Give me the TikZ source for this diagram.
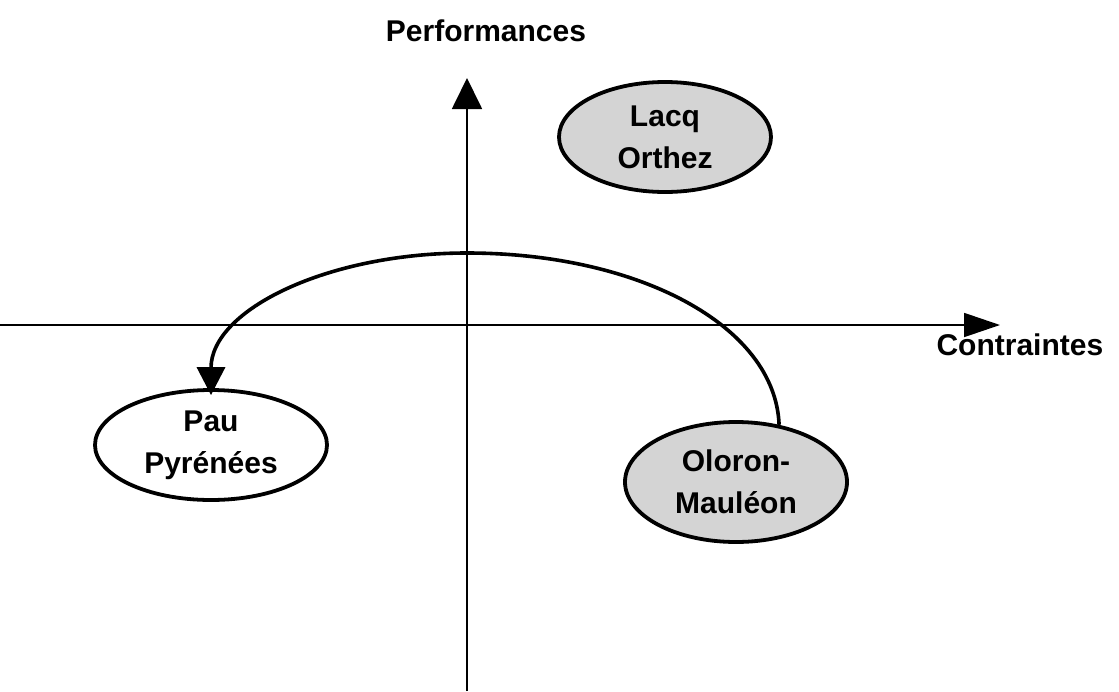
\documentclass[tikz,border=0pt]{standalone}
\usepackage{fontspec}
\setmainfont{Liberation Sans}
\usetikzlibrary{shapes.geometric,arrows.meta}
\begin{document}
\begin{tikzpicture}[x=1pt,y=-1pt,
  lbl/.style={font=\fontsize{30}{42}\selectfont\bfseries, align=center},
  zone/.style={ellipse, draw=black, line width=3.8pt, inner sep=0pt, lbl},
  grayzone/.style={zone, fill=black!17},
  axis/.style={line width=1.8pt, -{Triangle[width=30pt,length=31pt]}},
  move/.style={line width=3.6pt, -{Triangle[width=28pt,length=28pt]}}]
\useasboundingbox (0,0) rectangle (1119,691);
% axes
\coordinate (vb) at (467,691);
\coordinate (vt) at (467,78);
\coordinate (hl) at (0,325);
\coordinate (hr) at (1000,325);
\draw[axis] (vb) -- (vt);
\draw[line width=1.8pt, -{Triangle[width=24pt,length=36pt]}] (hl) -- (hr);
\node[lbl, anchor=south] (perf) at (486,45) {Performances};
\node[lbl, anchor=north west] (contr) at (933,330) {Contraintes};
% zones
\node[grayzone, minimum width=212pt, minimum height=110pt] (lacq) at (665,137) {Lacq\\Orthez};
\node[zone, minimum width=232pt, minimum height=110pt] (pau) at (211,445) {Pau\\Pyrénées};
\node[grayzone, minimum width=222pt, minimum height=120pt] (olo) at (736,482) {Oloron-\\Mauléon};
% movement
\coordinate (top) at (467,253);
\draw[move] (olo.53) .. controls +(-4,-100) and +(170,0) .. (top)
  .. controls +(-140,0) and +(0,-85) .. ([yshift=-7pt]pau.north);
\end{tikzpicture}
\end{document}
